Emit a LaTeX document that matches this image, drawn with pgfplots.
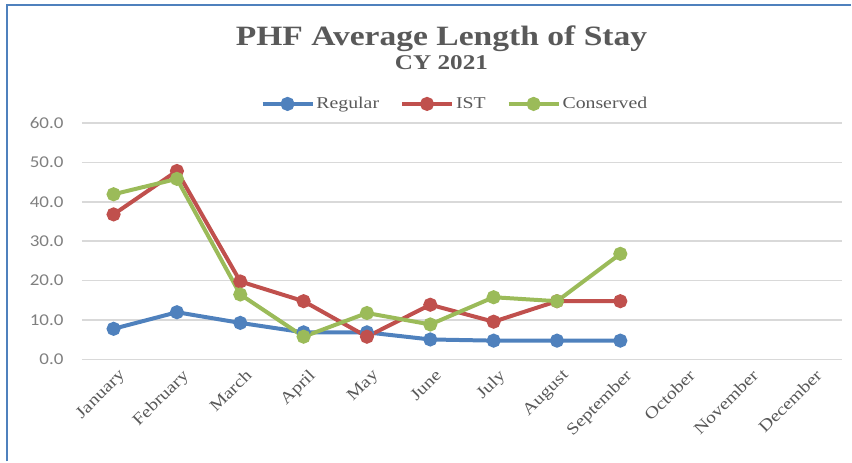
\documentclass[border=0pt]{standalone}
\usepackage{fontspec}
\setmainfont{Liberation Serif}[FakeStretch=1.2]
\newfontfamily\tickfont{Carlito}[FakeStretch=1.15]
\usepackage{pgfplots}
\pgfplotsset{compat=1.18}
\definecolor{cblue}{HTML}{4F81BD}
\definecolor{cred}{HTML}{C0504D}
\definecolor{cgreen}{HTML}{9BBB59}
\definecolor{tgray}{HTML}{595959}
\definecolor{lgray}{HTML}{7F7F7F}
\definecolor{ggray}{HTML}{D9D9D9}
\begin{document}
\begin{tikzpicture}
\path (0pt,0pt) rectangle (852pt,462pt);
\draw[cblue, line width=2pt] (7pt,0pt) -- (7pt,457pt) -- (852pt,457pt);
\node[font=\fontsize{28}{30}\selectfont\bfseries, text=tgray] at (442pt,423pt) {PHF Average Length of Stay};
\node[font=\fontsize{21}{24}\selectfont\bfseries, text=tgray] at (442pt,399pt) {CY 2021};
\begin{axis}[
  at={(82pt,102pt)}, anchor=south west,
  scale only axis, width=761pt, height=237pt,
  xmin=-0.5, xmax=11.5, ymin=0, ymax=60,
  ytick={0,10,...,60},
  xtick={0,...,11},
  xticklabels={January,February,March,April,May,June,July,August,September,October,November,December},
  xticklabel style={rotate=45, anchor=north east, font=\fontsize{16.5}{18}\selectfont, text=tgray, inner sep=1pt, yshift=-8pt, xshift=-2pt},
  yticklabel style={font=\tickfont\fontsize{16.5}{18}\selectfont, text=lgray, xshift=-15pt},
  /pgf/number format/.cd, fixed, fixed zerofill, precision=1, assume math mode=true,
  /pgfplots/.cd,
  axis line style={draw=none},
  major tick length=0pt,
  ymajorgrids, grid style={ggray, line width=1.5pt},
  every axis plot/.append style={line width=4pt, mark=*, mark size=5pt, mark options={solid}},
  legend columns=3,
  legend style={at={(axis description cs:0.49,1.08)}, anchor=center, draw=none, fill=none, font=\fontsize{16.5}{18}\selectfont, text=tgray, column sep=1pt, inner sep=0pt, nodes={inner sep=1pt}, /tikz/every even column/.style={column sep=20pt}},
  legend image code/.code={\draw[mark repeat=2,mark phase=2,#1] plot coordinates {(0pt,0pt) (25pt,0pt) (50pt,0pt)};},
  clip=false,
]
\addplot[cblue] coordinates {(0,7.8) (1,12.0) (2,9.3) (3,6.9) (4,6.9) (5,5.1) (6,4.8) (7,4.8) (8,4.8)};
\addlegendentry{Regular}
\addplot[cred] coordinates {(0,36.8) (1,47.8) (2,19.8) (3,14.8) (4,5.8) (5,13.9) (6,9.6) (7,14.8) (8,14.8)};
\addlegendentry{IST}
\addplot[cgreen] coordinates {(0,41.9) (1,45.8) (2,16.5) (3,5.8) (4,11.8) (5,8.9) (6,15.8) (7,14.8) (8,26.8)};
\addlegendentry{Conserved}
\end{axis}
\end{tikzpicture}
\end{document}
